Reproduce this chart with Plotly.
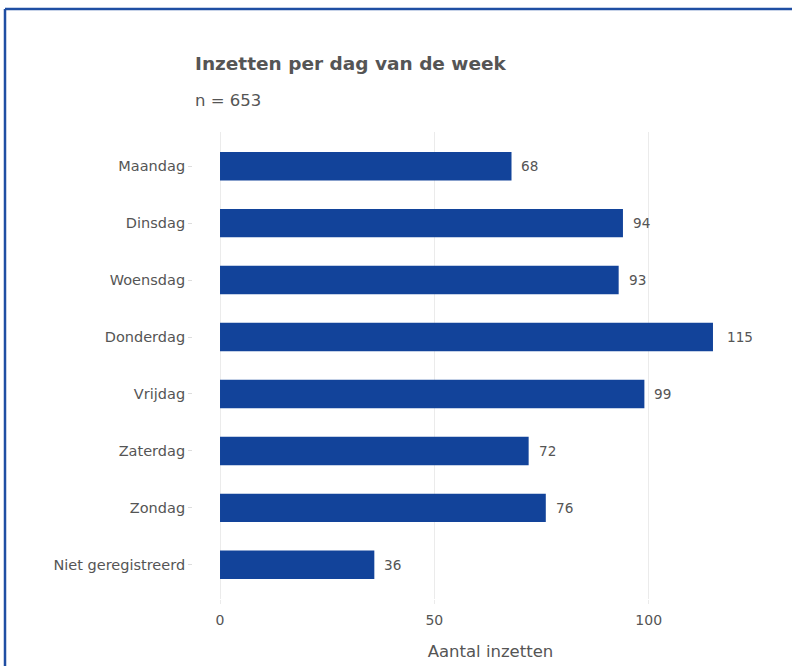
import plotly.graph_objects as go

days = ["Maandag", "Dinsdag", "Woensdag", "Donderdag", "Vrijdag", "Zaterdag", "Zondag", "Niet geregistreerd"]
counts = [68, 94, 93, 115, 99, 72, 76, 36]
x_ticks = [0, 50, 100]

W, H = 792, 666
L, R, T, B = 193, 4, 132, 67
pw, ph = W - L - R, H - T - B

def px_x(px):
    return (px - L) / pw

def px_y(py):
    return (H - B - py) / ph

BAR = "#12439a"
TXT = "#555555"
FONT = "DejaVu Sans"
LBL_SIZE = 13.6

fig = go.Figure(go.Bar(
    x=counts, y=days, orientation="h", width=0.5,
    marker=dict(color=BAR, line=dict(width=0)),
    hoverinfo="x+y",
))

annotations = []
for d, c in zip(days, counts):
    txt = str(c)
    annotations.append(dict(x=c, y=d, xref="x", yref="y", text=txt, showarrow=False,
                            xanchor="left", xshift=0.46 * len(txt) * 0.636 * LBL_SIZE,
                            font=dict(size=LBL_SIZE, color=TXT, family=FONT)))
annotations.append(dict(x=0, y=px_y(63), xref="paper", yref="paper", text="<b>Inzetten per dag van de week</b>",
                        showarrow=False, xanchor="left", yanchor="middle",
                        font=dict(size=18.5, color="#555555", family=FONT)))
annotations.append(dict(x=0, y=px_y(101), xref="paper", yref="paper", text="n = 653",
                        showarrow=False, xanchor="left", yanchor="middle",
                        font=dict(size=16.5, color="#555555", family=FONT)))

shapes = [
    dict(type="line", xref="paper", yref="paper", x0=px_x(5), x1=px_x(800), y0=px_y(9), y1=px_y(9),
         line=dict(color="#1f4ea3", width=2.5)),
    dict(type="line", xref="paper", yref="paper", x0=px_x(5), x1=px_x(5), y0=px_y(9), y1=px_y(680),
         line=dict(color="#1f4ea3", width=2.5)),
]

fig.update_layout(
    width=W, height=H,
    margin=dict(l=L, r=R, t=T, b=B, pad=0),
    paper_bgcolor="white", plot_bgcolor="white",
    showlegend=False,
    font=dict(family=FONT, color=TXT, size=14),
    annotations=annotations,
    shapes=shapes,
    xaxis=dict(range=[-6.3, 132.5], tickvals=x_ticks, ticktext=[str(v) for v in x_ticks],
               showgrid=True, gridcolor="#ebebeb", gridwidth=1, zeroline=False,
               ticks="outside", ticklen=4, tickcolor="#ebebeb", ticklabelstandoff=4,
               tickfont=dict(size=14, color=TXT),
               title=dict(text="Aantal inzetten", font=dict(size=16.5, color=TXT), standoff=18),
               showline=False),
    yaxis=dict(categoryorder="array", categoryarray=days, autorange=False, range=[7.6, -0.6],
               showgrid=False, zeroline=False, ticks="outside", ticklen=4, tickcolor="#dddddd",
               tickfont=dict(size=14.5, color=TXT), showline=False),
)

fig.write_html("out.html", config={"displayModeBar": False},
               post_script="document.body.style.margin='0';document.body.style.overflow='hidden';")
